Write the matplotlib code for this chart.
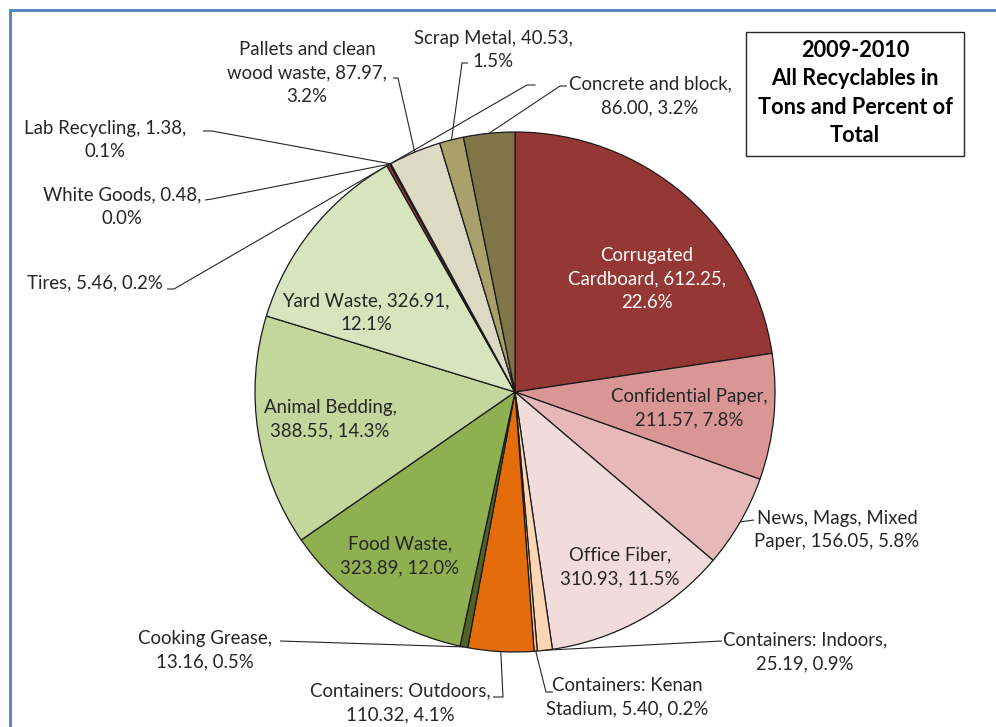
import matplotlib
matplotlib.use("Agg")
import matplotlib.pyplot as plt
from matplotlib.patches import Rectangle
import numpy as np

plt.rcParams['font.family'] = ['Lato', 'DejaVu Sans']

# ---------------- data ----------------
categories = [
    "Corrugated\nCardboard", "Confidential Paper", "News, Mags, Mixed\nPaper",
    "Office Fiber", "Containers: Indoors", "Containers: Kenan\nStadium",
    "Containers: Outdoors", "Cooking Grease", "Food Waste", "Animal Bedding",
    "Yard Waste", "Tires", "White Goods", "Lab Recycling",
    "Pallets and clean\nwood waste", "Scrap Metal", "Concrete and block",
]
tons = [612.25, 211.57, 156.05, 310.93, 25.19, 5.40, 110.32, 13.16, 323.89,
        388.55, 326.91, 5.46, 0.48, 1.38, 87.97, 40.53, 86.00]
pct_labels = ["22.6%", "7.8%", "5.8%", "11.5%", "0.9%", "0.2%", "4.1%", "0.5%",
              "12.0%", "14.3%", "12.1%", "0.2%", "0.0%", "0.1%", "3.2%", "1.5%", "3.2%"]
# how each label breaks lines: 0 -> "name, v, p" ; 1 -> "name,\nv, p" ; 2 -> "name, v,\np"
label_style = [2, 1, 0, 1, 1, 0, 1, 1, 1, 1, 2, 0, 2, 2, 2, 2, 1]
colors = ["#953735", "#D99694", "#E6B9B8", "#F2DCDB", "#FCD5B5", "#FAC090",
          "#E46C0A", "#4F6228", "#8EB050", "#C3D69B", "#D7E4BD", "#953735",
          "#632523", "#632523", "#DDD9C3", "#A9A06C", "#7F7549"]
title = "2009-2010\nAll Recyclables in\nTons and Percent of\nTotal"

# ---------------- layout (pixel coordinates, y downward) ----------------
W, H = 996, 727
CX, CY, R = 515, 392, 260

def Y(y):
    return H - y

text_pos = [(647, 279), (689, 408), (837, 530), (620, 567), (805, 652),
            (627, 697), (400, 703), (205, 650), (400, 556), (330, 419),
            (366, 313), (95, 283), (122, 207), (105, 140), (307, 73),
            (493, 50), (650, 96)]
text_col = ["white"] + ["#262626"] * 16
# leader paths (points from text side toward the slice)
leaders = {
    2: [(754, 520)],
    4: [(722, 641)],
    5: [(553, 692), (546, 692)],
    6: [(493, 697), (503, 697)],
    7: [(280, 641)],
    11: [(167, 289), (174, 289)],
    12: [(205, 200), (212, 199)],
    13: [(203, 131), (212, 131)],
    14: [(393, 78), (398, 78)],
    15: [(468, 63), (462, 63)],
    16: [(567, 86), (560, 86)],
}

fig = plt.figure(figsize=(W / 100, H / 100), dpi=100)
ax = fig.add_axes([0, 0, 1, 1])
ax.set_xlim(0, W)
ax.set_ylim(0, H)
ax.set_aspect('equal')
ax.axis('off')

wedges, _ = ax.pie(tons, colors=colors, startangle=90, counterclock=False,
                   center=(CX, Y(CY)), radius=R,
                   wedgeprops=dict(edgecolor="#1a1a1a", linewidth=0.9))
ax.set_xlim(0, W)
ax.set_ylim(0, H)

def edge_point(w):
    ang = np.deg2rad((w.theta1 + w.theta2) / 2)
    return CX + R * np.cos(ang), Y(CY) + R * np.sin(ang)

fs = 13.4
for i, (name, v, p) in enumerate(zip(categories, tons, pct_labels)):
    st = label_style[i]
    if st == 0:
        s = f"{name}, {v:.2f}, {p}"
    elif st == 1:
        s = f"{name},\n{v:.2f}, {p}"
    else:
        s = f"{name}, {v:.2f},\n{p}"
    x, y = text_pos[i]
    ax.text(x, Y(y), s, ha='center', va='center', fontsize=fs,
            color=text_col[i], linespacing=1.45, multialignment='center')
    if i in leaders:
        pts = [(px, Y(py)) for px, py in leaders[i]] + [edge_point(wedges[i])]
        xs, ys = zip(*pts)
        ax.plot(xs, ys, color="#262626", lw=0.8, solid_capstyle='butt')

# extra unlabeled leader line visible in the original (towards White Goods)
ex, ey = edge_point(wedges[12])
ax.plot([535, 527, ex], [Y(85), Y(85), ey], color="#262626", lw=0.8)

# title box
ax.add_patch(Rectangle((746, Y(156)), 218, 124, fill=False, edgecolor="#262626", lw=1.0))
ax.text(855, Y(93), title, ha='center', va='center', fontsize=15.6, fontweight='bold',
        color="black", linespacing=1.42)

# outer blue frame
ax.add_patch(Rectangle((10, -50), 1100, Y(10) + 50, fill=False, edgecolor="#4F81BD",
                       lw=2.0, clip_on=False))

fig.savefig("out.png", dpi=100)
